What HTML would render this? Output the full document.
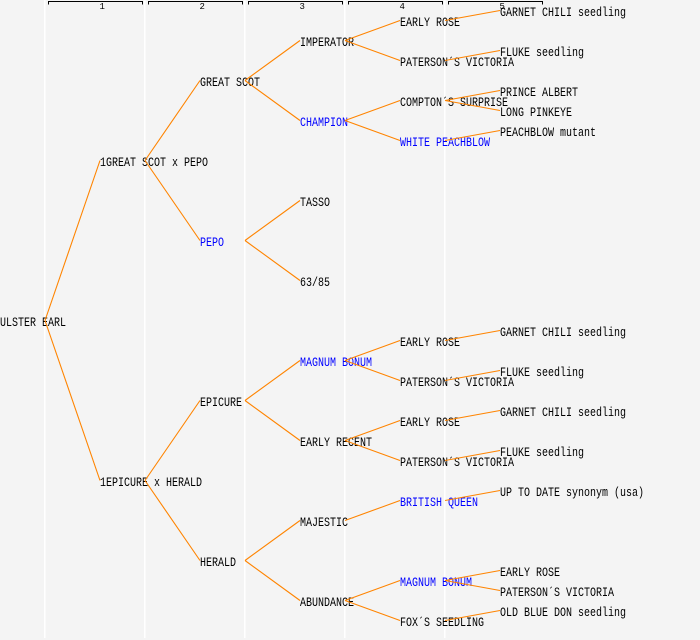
<!DOCTYPE html>
<html>
<head>
<meta charset="utf-8">
<style>
html,body{margin:0;padding:0;background:#f4f4f4;}
svg{display:block;}
text{font-family:"Liberation Mono","DejaVu Sans Mono",monospace;font-size:12.5px;}
.b{fill:#0000ff;}
.k{fill:#000;}
.r{font-size:9px;}
</style>
</head>
<body>
<svg width="700" height="640" viewBox="0 0 700 640" xmlns="http://www.w3.org/2000/svg">
<rect x="0" y="0" width="700" height="640" fill="#f4f4f4"/>
<!-- column separators -->
<g fill="#ffffff">
<rect x="44" y="0" width="1.6" height="638"/>
<rect x="144" y="0" width="1.6" height="638"/>
<rect x="244" y="0" width="1.6" height="638"/>
<rect x="344" y="0" width="1.6" height="638"/>
<rect x="444" y="0" width="1.6" height="638"/>
</g>
<!-- ruler -->
<g fill="none" stroke="#000" stroke-width="1" shape-rendering="crispEdges">
<path d="M48.5 4.5 V1.5 H142.5 V4.5"/>
<path d="M148.5 4.5 V1.5 H242.5 V4.5"/>
<path d="M248.5 4.5 V1.5 H342.5 V4.5"/>
<path d="M348.5 4.5 V1.5 H442.5 V4.5"/>
<path d="M448.5 4.5 V1.5 H542.5 V4.5"/>
</g>
<g class="k">
<text class="r" x="99.5" y="9">1</text>
<text class="r" x="199.5" y="9">2</text>
<text class="r" x="299.5" y="9">3</text>
<text class="r" x="399.5" y="9">4</text>
<text class="r" x="499.5" y="9">5</text>
</g>

<!-- labels (baseline = anchor + 6) -->
<g class="k">
<text x="0" y="326" textLength="66" lengthAdjust="spacingAndGlyphs">ULSTER EARL</text>
<text x="100" y="166" textLength="108" lengthAdjust="spacingAndGlyphs">1GREAT SCOT x PEPO</text>
<text x="100" y="486" textLength="102" lengthAdjust="spacingAndGlyphs">1EPICURE x HERALD</text>
<text x="200" y="86" textLength="60" lengthAdjust="spacingAndGlyphs">GREAT SCOT</text>
<text class="b" x="200" y="246" textLength="24" lengthAdjust="spacingAndGlyphs">PEPO</text>
<text x="200" y="406" textLength="42" lengthAdjust="spacingAndGlyphs">EPICURE</text>
<text x="200" y="566" textLength="36" lengthAdjust="spacingAndGlyphs">HERALD</text>

<text x="300" y="46" textLength="54" lengthAdjust="spacingAndGlyphs">IMPERATOR</text>
<text class="b" x="300" y="126" textLength="48" lengthAdjust="spacingAndGlyphs">CHAMPION</text>
<text x="300" y="206" textLength="30" lengthAdjust="spacingAndGlyphs">TASSO</text>
<text x="300" y="286" textLength="30" lengthAdjust="spacingAndGlyphs">63/85</text>
<text class="b" x="300" y="366" textLength="72" lengthAdjust="spacingAndGlyphs">MAGNUM BONUM</text>
<text x="300" y="446" textLength="72" lengthAdjust="spacingAndGlyphs">EARLY RECENT</text>
<text x="300" y="526" textLength="48" lengthAdjust="spacingAndGlyphs">MAJESTIC</text>
<text x="300" y="606" textLength="54" lengthAdjust="spacingAndGlyphs">ABUNDANCE</text>

<text x="400" y="26" textLength="60" lengthAdjust="spacingAndGlyphs">EARLY ROSE</text>
<text x="400" y="66" textLength="114" lengthAdjust="spacingAndGlyphs">PATERSON´S VICTORIA</text>
<text x="400" y="106" textLength="108" lengthAdjust="spacingAndGlyphs">COMPTON´S SURPRISE</text>
<text class="b" x="400" y="146" textLength="90" lengthAdjust="spacingAndGlyphs">WHITE PEACHBLOW</text>
<text x="400" y="346" textLength="60" lengthAdjust="spacingAndGlyphs">EARLY ROSE</text>
<text x="400" y="386" textLength="114" lengthAdjust="spacingAndGlyphs">PATERSON´S VICTORIA</text>
<text x="400" y="426" textLength="60" lengthAdjust="spacingAndGlyphs">EARLY ROSE</text>
<text x="400" y="466" textLength="114" lengthAdjust="spacingAndGlyphs">PATERSON´S VICTORIA</text>
<text class="b" x="400" y="506" textLength="78" lengthAdjust="spacingAndGlyphs">BRITISH QUEEN</text>
<text class="b" x="400" y="586" textLength="72" lengthAdjust="spacingAndGlyphs">MAGNUM BONUM</text>
<text x="400" y="626" textLength="84" lengthAdjust="spacingAndGlyphs">FOX´S SEEDLING</text>

<text x="500" y="16" textLength="126" lengthAdjust="spacingAndGlyphs">GARNET CHILI seedling</text>
<text x="500" y="56" textLength="84" lengthAdjust="spacingAndGlyphs">FLUKE seedling</text>
<text x="500" y="96" textLength="78" lengthAdjust="spacingAndGlyphs">PRINCE ALBERT</text>
<text x="500" y="116" textLength="72" lengthAdjust="spacingAndGlyphs">LONG PINKEYE</text>
<text x="500" y="136" textLength="96" lengthAdjust="spacingAndGlyphs">PEACHBLOW mutant</text>
<text x="500" y="336" textLength="126" lengthAdjust="spacingAndGlyphs">GARNET CHILI seedling</text>
<text x="500" y="376" textLength="84" lengthAdjust="spacingAndGlyphs">FLUKE seedling</text>
<text x="500" y="416" textLength="126" lengthAdjust="spacingAndGlyphs">GARNET CHILI seedling</text>
<text x="500" y="456" textLength="84" lengthAdjust="spacingAndGlyphs">FLUKE seedling</text>
<text x="500" y="496" textLength="144" lengthAdjust="spacingAndGlyphs">UP TO DATE synonym (usa)</text>
<text x="500" y="576" textLength="60" lengthAdjust="spacingAndGlyphs">EARLY ROSE</text>
<text x="500" y="596" textLength="114" lengthAdjust="spacingAndGlyphs">PATERSON´S VICTORIA</text>
<text x="500" y="616" textLength="126" lengthAdjust="spacingAndGlyphs">OLD BLUE DON seedling</text>
</g>

<!-- connectors -->
<g fill="none" stroke="#ff8400" stroke-width="1.1">
<path d="M45 320.5 L100 160.5 M45 320.5 L100 480.5"/>
<path d="M145 160.5 L200 80.5 M145 160.5 L200 240.5"/>
<path d="M145 480.5 L200 400.5 M145 480.5 L200 560.5"/>
<path d="M245 80.5 L300 40.5 M245 80.5 L300 120.5"/>
<path d="M245 240.5 L300 200.5 M245 240.5 L300 280.5"/>
<path d="M245 400.5 L300 360.5 M245 400.5 L300 440.5"/>
<path d="M245 560.5 L300 520.5 M245 560.5 L300 600.5"/>
<path d="M345 40.5 L400 20.5 M345 40.5 L400 60.5"/>
<path d="M345 120.5 L400 100.5 M345 120.5 L400 140.5"/>
<path d="M345 360.5 L400 340.5 M345 360.5 L400 380.5"/>
<path d="M345 440.5 L400 420.5 M345 440.5 L400 460.5"/>
<path d="M345 520.5 L400 500.5"/>
<path d="M345 600.5 L400 580.5 M345 600.5 L400 620.5"/>
<path d="M445 20.5 L500 10.5"/>
<path d="M445 60.5 L500 50.5"/>
<path d="M445 100.5 L500 90.5 M445 100.5 L500 110.5"/>
<path d="M445 140.5 L500 130.5"/>
<path d="M445 340.5 L500 330.5"/>
<path d="M445 380.5 L500 370.5"/>
<path d="M445 420.5 L500 410.5"/>
<path d="M445 460.5 L500 450.5"/>
<path d="M445 500.5 L500 490.5"/>
<path d="M445 580.5 L500 570.5 M445 580.5 L500 590.5"/>
<path d="M445 620.5 L500 610.5"/>
</g>
</svg>
</body>
</html>
